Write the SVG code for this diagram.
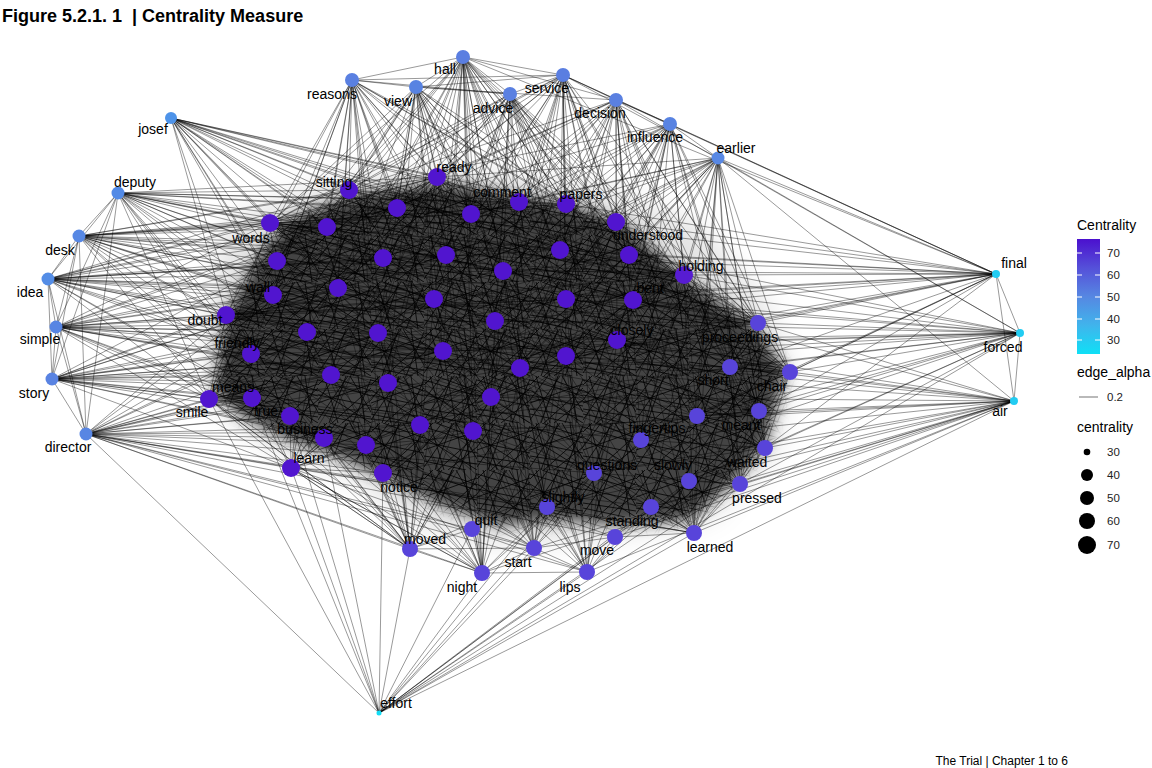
<svg xmlns="http://www.w3.org/2000/svg" width="1152" height="768" viewBox="0 0 1152 768">
<style>
.e{fill:none;stroke:#000;stroke-opacity:.62;stroke-width:.65}
.l{font-family:"Liberation Sans",Arial,sans-serif;font-size:14px;text-anchor:middle;fill:#000}
.ni{fill:#5115CF}
.nm{fill:#5844DA}
.no{fill:#5886E3}
.nc{fill:#22CCF2}
.t{font-family:"Liberation Sans",Arial,sans-serif;font-size:18px;font-weight:bold;fill:#000;white-space:pre}
.lt{font-family:"Liberation Sans",Arial,sans-serif;font-size:14px;fill:#000}
.lk{font-family:"Liberation Sans",Arial,sans-serif;font-size:11.5px;fill:#222}
.cap{font-family:"Liberation Sans",Arial,sans-serif;font-size:12px;fill:#000;text-anchor:end}
</style>
<defs>
<filter id="b1" x="-30%" y="-30%" width="160%" height="160%"><feGaussianBlur stdDeviation="12"/></filter>
<filter id="b2" x="-30%" y="-30%" width="160%" height="160%"><feGaussianBlur stdDeviation="7"/></filter>
<pattern id="mesh" width="53" height="47" patternUnits="userSpaceOnUse">
<path d="M0 4L53 20M0 27L53 8M6 0L20 47M28 0L11 47M0 33L53 41M32 0L53 36M0 14L53 47M18 0L0 24M53 12L14 47M0 9L9 0M24 47L53 24M40 0L47 47M0 44L30 0M0 19L53 30M12 0L53 15M0 38L42 47M35 47L53 3" stroke="#000" stroke-width=".8" fill="none"/>
</pattern>
<mask id="coreMask"><polygon points="285,222 350,196 440,183 520,196 570,205 625,225 690,282 755,325 785,372 765,445 735,480 690,520 620,525 560,520 500,525 440,505 390,480 335,455 290,440 240,415 215,390 225,320 255,262" fill="#fff" filter="url(#b2)"/></mask>
<linearGradient id="lg" x1="0" y1="0" x2="0" y2="1">
<stop offset="0" stop-color="#4B10CE"/>
<stop offset="0.25" stop-color="#5550D9"/>
<stop offset="0.5" stop-color="#5687E2"/>
<stop offset="0.75" stop-color="#40B4EC"/>
<stop offset="1" stop-color="#0FE0F6"/>
</linearGradient>
</defs>
<rect width="1152" height="768" fill="#fff"/>
<text class="t" x="2" y="22" xml:space="preserve">Figure 5.2.1. 1  | Centrality Measure</text>

<g id="edges">
<polygon points="225,220 330,180 460,168 600,185 700,225 765,300 792,370 775,455 710,520 600,540 480,545 415,525 345,475 270,448 212,405 205,330" fill="#000" fill-opacity=".1" filter="url(#b1)"/>
<polygon points="285,222 350,196 440,183 520,196 570,205 625,225 690,282 755,325 785,372 765,445 735,480 690,520 620,525 560,520 500,525 440,505 390,480 335,455 290,440 240,415 215,390 225,320 255,262" fill="#000" fill-opacity=".7" filter="url(#b2)"/>
<rect width="1152" height="768" fill="url(#mesh)" mask="url(#coreMask)"/>
<path class="e" d="M463 57L349 190M463 57L437 177M463 57L397 208M463 57L471 214M463 57L519 202M463 57L566 204M463 57L616 222M463 57L270 223M463 57L327 227M463 57L383 258M463 57L446 255M463 57L503 271M463 57L560 250M463 57L629 255M463 57L684 275M463 57L338 288M463 57L434 299M463 57L495 321M463 57L566 299M463 57L633 300M463 57L378 333M463 57L443 351M463 57L566 356M463 57L617 340M463 57L491 397M463 57L473 431M463 57L758 323M463 57L730 367M463 57L594 473M463 57L547 507M463 57L482 573M463 57L307 332M463 57L277 261M463 57L352 80M463 57L416 87M463 57L510 94M463 57L563 75M463 57L616 100M463 57L996 274"/>
<path class="e" d="M352 80L349 190M352 80L437 177M352 80L397 208M352 80L471 214M352 80L519 202M352 80L566 204M352 80L270 223M352 80L327 227M352 80L277 261M352 80L383 258M352 80L446 255M352 80L503 271M352 80L560 250M352 80L273 295M352 80L338 288M352 80L434 299M352 80L226 315M352 80L307 332M352 80L378 333M352 80L251 354M352 80L331 375M352 80L616 222M352 80L684 275M352 80L410 549M352 80L383 473M352 80L495 321M352 80L443 351M352 80L416 87M352 80L510 94M352 80L563 75"/>
<path class="e" d="M416 87L349 190M416 87L437 177M416 87L397 208M416 87L471 214M416 87L519 202M416 87L566 204M416 87L616 222M416 87L270 223M416 87L327 227M416 87L277 261M416 87L383 258M416 87L446 255M416 87L503 271M416 87L560 250M416 87L629 255M416 87L338 288M416 87L434 299M416 87L495 321M416 87L378 333M416 87L443 351M416 87L388 383M416 87L491 397M416 87L594 473M416 87L273 295M416 87L566 299M416 87L566 356M416 87L510 94M416 87L616 100M416 87L563 75"/>
<path class="e" d="M510 94L349 190M510 94L437 177M510 94L397 208M510 94L471 214M510 94L519 202M510 94L566 204M510 94L616 222M510 94L327 227M510 94L383 258M510 94L446 255M510 94L503 271M510 94L560 250M510 94L629 255M510 94L684 275M510 94L434 299M510 94L495 321M510 94L566 299M510 94L633 300M510 94L443 351M510 94L520 368M510 94L566 356M510 94L617 340M510 94L491 397M510 94L758 323M510 94L730 367M510 94L697 416M510 94L270 223M510 94L338 288M510 94L641 440M510 94L563 75"/>
<path class="e" d="M563 75L349 190M563 75L437 177M563 75L397 208M563 75L471 214M563 75L519 202M563 75L566 204M563 75L616 222M563 75L327 227M563 75L383 258M563 75L446 255M563 75L503 271M563 75L560 250M563 75L629 255M563 75L684 275M563 75L434 299M563 75L495 321M563 75L566 299M563 75L633 300M563 75L520 368M563 75L566 356M563 75L617 340M563 75L758 323M563 75L730 367M563 75L697 416M563 75L641 440M563 75L270 223M563 75L491 397M563 75L594 473M563 75L616 100M563 75L670 124M563 75L718 158M563 75L996 274"/>
<path class="e" d="M616 100L349 190M616 100L437 177M616 100L471 214M616 100L519 202M616 100L566 204M616 100L616 222M616 100L446 255M616 100L503 271M616 100L560 250M616 100L629 255M616 100L684 275M616 100L495 321M616 100L566 299M616 100L633 300M616 100L520 368M616 100L566 356M616 100L617 340M616 100L758 323M616 100L730 367M616 100L790 372M616 100L697 416M616 100L759 411M616 100L641 440M616 100L397 208M616 100L327 227M616 100L434 299M616 100L689 481M616 100L670 124M616 100L996 274M616 100L1020 333"/>
<path class="e" d="M670 124L349 190M670 124L471 214M670 124L519 202M670 124L566 204M670 124L616 222M670 124L327 227M670 124L446 255M670 124L503 271M670 124L560 250M670 124L629 255M670 124L684 275M670 124L495 321M670 124L566 299M670 124L633 300M670 124L566 356M670 124L617 340M670 124L758 323M670 124L730 367M670 124L790 372M670 124L697 416M670 124L759 411M670 124L641 440M670 124L765 448M670 124L520 368M670 124L491 397M670 124L594 473M670 124L718 158M670 124L996 274"/>
<path class="e" d="M718 158L519 202M718 158L566 204M718 158L616 222M718 158L446 255M718 158L503 271M718 158L560 250M718 158L629 255M718 158L684 275M718 158L495 321M718 158L566 299M718 158L633 300M718 158L520 368M718 158L566 356M718 158L617 340M718 158L491 397M718 158L758 323M718 158L730 367M718 158L790 372M718 158L697 416M718 158L759 411M718 158L641 440M718 158L765 448M718 158L740 484M718 158L689 481M718 158L471 214M718 158L434 299M718 158L651 507M718 158L694 533M718 158L437 177M718 158L996 274M718 158L1020 333M718 158L1014 401"/>
<path class="e" d="M171 118L349 190M171 118L437 177M171 118L397 208M171 118L471 214M171 118L519 202M171 118L566 204M171 118L616 222M171 118L270 223M171 118L327 227M171 118L277 261M171 118L383 258M171 118L446 255M171 118L503 271M171 118L560 250M171 118L684 275M171 118L273 295M171 118L338 288M171 118L434 299M171 118L226 315M171 118L307 332M171 118L378 333M171 118L251 354M171 118L331 375M171 118L495 321M171 118L443 351M171 118L758 323"/>
<path class="e" d="M118 193L349 190M118 193L437 177M118 193L397 208M118 193L471 214M118 193L519 202M118 193L270 223M118 193L327 227M118 193L277 261M118 193L383 258M118 193L446 255M118 193L503 271M118 193L273 295M118 193L338 288M118 193L434 299M118 193L226 315M118 193L307 332M118 193L378 333M118 193L251 354M118 193L331 375M118 193L209 399M118 193L252 398M118 193L290 416M118 193L566 204M118 193L560 250M118 193L495 321M118 193L79 236M118 193L48 279M118 193L56 327M118 193L52 379M118 193L86 434"/>
<path class="e" d="M79 236L349 190M79 236L437 177M79 236L397 208M79 236L471 214M79 236L519 202M79 236L270 223M79 236L327 227M79 236L277 261M79 236L383 258M79 236L446 255M79 236L503 271M79 236L273 295M79 236L338 288M79 236L434 299M79 236L495 321M79 236L226 315M79 236L307 332M79 236L378 333M79 236L251 354M79 236L331 375M79 236L209 399M79 236L252 398M79 236L290 416M79 236L560 250M79 236L566 204M79 236L443 351M79 236L48 279M79 236L56 327M79 236L52 379M79 236L86 434"/>
<path class="e" d="M48 279L349 190M48 279L397 208M48 279L566 204M48 279L270 223M48 279L327 227M48 279L277 261M48 279L383 258M48 279L446 255M48 279L503 271M48 279L273 295M48 279L338 288M48 279L434 299M48 279L495 321M48 279L226 315M48 279L307 332M48 279L378 333M48 279L443 351M48 279L251 354M48 279L331 375M48 279L388 383M48 279L209 399M48 279L252 398M48 279L290 416M48 279L566 299M48 279L560 250M48 279L437 177M48 279L56 327M48 279L52 379M48 279L86 434"/>
<path class="e" d="M56 327L270 223M56 327L327 227M56 327L277 261M56 327L383 258M56 327L446 255M56 327L273 295M56 327L338 288M56 327L434 299M56 327L495 321M56 327L226 315M56 327L307 332M56 327L378 333M56 327L443 351M56 327L520 368M56 327L251 354M56 327L331 375M56 327L388 383M56 327L209 399M56 327L252 398M56 327L290 416M56 327L491 397M56 327L324 438M56 327L291 468M56 327L566 299M56 327L566 356M56 327L397 208M56 327L52 379M56 327L86 434"/>
<path class="e" d="M52 379L277 261M52 379L446 255M52 379L273 295M52 379L338 288M52 379L434 299M52 379L495 321M52 379L226 315M52 379L307 332M52 379L378 333M52 379L443 351M52 379L520 368M52 379L566 356M52 379L251 354M52 379L331 375M52 379L388 383M52 379L209 399M52 379L252 398M52 379L290 416M52 379L420 425M52 379L324 438M52 379L366 445M52 379L291 468M52 379L491 397M52 379L617 340M52 379L641 440M52 379L86 434"/>
<path class="e" d="M86 434L273 295M86 434L338 288M86 434L495 321M86 434L226 315M86 434L307 332M86 434L378 333M86 434L443 351M86 434L520 368M86 434L251 354M86 434L331 375M86 434L388 383M86 434L209 399M86 434L252 398M86 434L290 416M86 434L491 397M86 434L420 425M86 434L473 431M86 434L324 438M86 434L366 445M86 434L291 468M86 434L383 473M86 434L594 473M86 434L547 507M86 434L472 529M86 434L410 549M86 434L482 573M86 434L534 548M86 434L587 572M86 434L694 533M86 434L615 537M86 434L379 713"/>
<path class="e" d="M379 713L209 399M379 713L252 398M379 713L291 468M379 713L324 438M379 713L290 416M379 713L410 549M379 713L482 573M379 713L472 529M379 713L534 548M379 713L587 572M379 713L615 537M379 713L547 507M379 713L694 533M379 713L651 507M379 713L740 484M379 713L594 473M379 713L689 481M379 713L765 448M379 713L1014 401M379 713L1020 333M379 713L383 473"/>
<path class="e" d="M996 274L1020 333M996 274L1014 401M996 274L758 323M996 274L730 367M996 274L790 372M996 274L697 416M996 274L759 411M996 274L684 275M996 274L629 255M996 274L633 300M996 274L616 222M996 274L617 340M996 274L566 299M996 274L560 250M996 274L566 204M996 274L503 271M996 274L495 321M996 274L566 356M996 274L520 368M996 274L641 440M996 274L226 315M996 274L446 255M996 274L471 214M996 274L765 448"/>
<path class="e" d="M1020 333L1014 401M1020 333L758 323M1020 333L730 367M1020 333L790 372M1020 333L697 416M1020 333L759 411M1020 333L641 440M1020 333L765 448M1020 333L740 484M1020 333L689 481M1020 333L684 275M1020 333L633 300M1020 333L617 340M1020 333L566 299M1020 333L566 356M1020 333L520 368M1020 333L491 397M1020 333L495 321M1020 333L443 351M1020 333L251 354M1020 333L629 255M1020 333L503 271M1020 333L594 473"/>
<path class="e" d="M1014 401L758 323M1014 401L730 367M1014 401L790 372M1014 401L697 416M1014 401L759 411M1014 401L641 440M1014 401L765 448M1014 401L740 484M1014 401L689 481M1014 401L594 473M1014 401L547 507M1014 401L651 507M1014 401L694 533M1014 401L615 537M1014 401L587 572M1014 401L534 548M1014 401L566 356M1014 401L617 340M1014 401L491 397M1014 401L473 431M1014 401L520 368M1014 401L633 300M1014 401L482 573"/>
<path class="e" d="M410 549L307 332M410 549L378 333M410 549L443 351M410 549L331 375M410 549L388 383M410 549L420 425M410 549L473 431M410 549L324 438M410 549L366 445M410 549L383 473M410 549L434 299M410 549L495 321M410 549L491 397M410 549L520 368M410 549L383 258M410 549L338 288M410 549L251 354M410 549L290 416M410 549L291 468M410 549L252 398M410 549L209 399M410 549L472 529M410 549L482 573M410 549L534 548M410 549L594 473"/>
<path class="e" d="M482 573L378 333M482 573L443 351M482 573L520 368M482 573L388 383M482 573L491 397M482 573L420 425M482 573L473 431M482 573L366 445M482 573L383 473M482 573L434 299M482 573L495 321M482 573L566 356M482 573L446 255M482 573L503 271M482 573L331 375M482 573L290 416M482 573L291 468M482 573L472 529M482 573L534 548M482 573L547 507M482 573L594 473M482 573L587 572"/>
<path class="e" d="M534 548L495 321M534 548L443 351M534 548L520 368M534 548L566 356M534 548L491 397M534 548L420 425M534 548L473 431M534 548L617 340M534 548L566 299M534 548L503 271M534 548L434 299M534 548L594 473M534 548L547 507M534 548L615 537M534 548L587 572M534 548L472 529M534 548L641 440M534 548L366 445M534 548L383 473"/>
<path class="e" d="M587 572L520 368M587 572L566 356M587 572L617 340M587 572L491 397M587 572L473 431M587 572L566 299M587 572L633 300M587 572L495 321M587 572L641 440M587 572L594 473M587 572L547 507M587 572L651 507M587 572L615 537M587 572L689 481M587 572L443 351M587 572L503 271M587 572L420 425"/>
<path class="e" d="M694 533L566 356M694 533L617 340M694 533L633 300M694 533L520 368M694 533L491 397M694 533L730 367M694 533L697 416M694 533L759 411M694 533L641 440M694 533L765 448M694 533L740 484M694 533L689 481M694 533L594 473M694 533L547 507M694 533L651 507M694 533L615 537M694 533L566 299M694 533L684 275M694 533L473 431M694 533L758 323M694 533L790 372"/>
<path class="e" d="M740 484L758 323M740 484L730 367M740 484L790 372M740 484L697 416M740 484L759 411M740 484L765 448M740 484L689 481M740 484L651 507M740 484L633 300M740 484L617 340M740 484L684 275M740 484L566 356M740 484L520 368M740 484L641 440M740 484L594 473"/>
<path class="e" d="M765 448L758 323M765 448L730 367M765 448L790 372M765 448L697 416M765 448L759 411M765 448L641 440M765 448L633 300M765 448L617 340M765 448L684 275M765 448L566 356M765 448L566 299M765 448L594 473M765 448L689 481"/>
<path class="e" d="M790 372L758 323M790 372L730 367M790 372L697 416M790 372L759 411M790 372L641 440M790 372L684 275M790 372L633 300M790 372L617 340M790 372L629 255M790 372L566 299M790 372L566 356M790 372L520 368M790 372L495 321M790 372L616 222"/>
<path class="e" d="M758 323L684 275M758 323L633 300M758 323L629 255M758 323L616 222M758 323L566 299M758 323L617 340M758 323L560 250M758 323L503 271M758 323L495 321M758 323L566 356M758 323L730 367M758 323L759 411M758 323L697 416M758 323L566 204M758 323L446 255"/>
<path class="e" d="M759 411L730 367M759 411L697 416M759 411L641 440M759 411L617 340M759 411L566 356M759 411L633 300M759 411L684 275M759 411L566 299M759 411L520 368M759 411L491 397"/>
<path class="e" d="M209 399L251 354M209 399L252 398M209 399L290 416M209 399L226 315M209 399L273 295M209 399L307 332M209 399L331 375M209 399L324 438M209 399L291 468M209 399L388 383M209 399L378 333M209 399L338 288M209 399L277 261M209 399L434 299M209 399L443 351M209 399L420 425M209 399L410 549M209 399L482 573"/>
<path class="e" d="M291 468L324 438M291 468L366 445M291 468L290 416M291 468L252 398M291 468L331 375M291 468L388 383M291 468L383 473M291 468L420 425M291 468L307 332M291 468L378 333M291 468L443 351M291 468L491 397M291 468L473 431M291 468L410 549M291 468L482 573M291 468L587 572M291 468L694 533"/>
<path class="e" d="M270 223L437 177M270 223L471 214M270 223L566 204M270 223L616 222M270 223L503 271M270 223L560 250M270 223L629 255M270 223L684 275M270 223L566 299M270 223L633 300M270 223L495 321M270 223L443 351M270 223L520 368M270 223L566 356M270 223L617 340M270 223L491 397M270 223L473 431M270 223L383 473M270 223L290 416M270 223L209 399"/>
<path class="e" d="M226 315L349 190M226 315L437 177M226 315L519 202M226 315L566 204M226 315L616 222M226 315L629 255M226 315L684 275M226 315L503 271M226 315L566 299M226 315L633 300M226 315L617 340M226 315L566 356M226 315L520 368M226 315L491 397M226 315L473 431M226 315L383 473M226 315L410 549M226 315L291 468"/>
<path class="e" d="M684 275L349 190M684 275L397 208M684 275L327 227M684 275L383 258M684 275L338 288M684 275L434 299M684 275L443 351M684 275L378 333M684 275L388 383M684 275L420 425M684 275L473 431M684 275L491 397M684 275L366 445M684 275L383 473M684 275L594 473M684 275L547 507M684 275L641 440"/>
<path class="e" d="M437 177L277 261M437 177L273 295M437 177L307 332M437 177L331 375M437 177L388 383M437 177L420 425M437 177L473 431M437 177L491 397M437 177L520 368M437 177L566 356M437 177L617 340M437 177L633 300M437 177L629 255M437 177L251 354M437 177L324 438M437 177L366 445"/>
<path class="e" d="M349 190L566 204M349 190L616 222M349 190L629 255M349 190L633 300M349 190L566 356M349 190L491 397M349 190L420 425M349 190L366 445M349 190L291 468M349 190L209 399M277 261L684 275M277 261L633 300M277 261L617 340M277 261L566 356M277 261L594 473M273 295L616 222M273 295L758 323M273 295L641 440M273 295L547 507M251 354L629 255M251 354L730 367M251 354L594 473M251 354L534 548M307 332L697 416M307 332L651 507M324 438L617 340M324 438L730 367M324 438L615 537M366 445L629 255M366 445L759 411M383 473L616 222M383 473L633 300M383 473L697 416M383 473L651 507M420 425L616 222M420 425L790 372M473 431L277 261M473 431L327 227M491 397L270 223M491 397L349 190M566 356L397 208M566 356L273 295M520 368L327 227M617 340L383 258M617 340L307 332M641 440L383 258M641 440L338 288M594 473L397 208M594 473L434 299M547 507L446 255M547 507L503 271M651 507L560 250M651 507L471 214"/>
</g>

<g id="nodes">
<g id="n-hall"><circle class="no" cx="463" cy="57" r="7" style="fill:#5A7EE1"/><text class="l" x="445" y="74">hall</text></g>
<g id="n-reasons"><circle class="no" cx="352" cy="80" r="7" style="fill:#5A80E1"/><text class="l" x="332" y="99">reasons</text></g>
<g id="n-view"><circle class="no" cx="416" cy="87" r="7" style="fill:#5883E2"/><text class="l" x="398" y="106">view</text></g>
<g id="n-advice"><circle class="no" cx="510" cy="94" r="7" style="fill:#5A80E1"/><text class="l" x="493" y="113">advice</text></g>
<g id="n-service"><circle class="no" cx="563" cy="75" r="7" style="fill:#5A7EE1"/><text class="l" x="547" y="93">service</text></g>
<g id="n-decision"><circle class="no" cx="616" cy="100" r="7" style="fill:#5A80E1"/><text class="l" x="600" y="118">decision</text></g>
<g id="n-influence"><circle class="no" cx="670" cy="124" r="7" style="fill:#5883E2"/><text class="l" x="655" y="142">influence</text></g>
<g id="n-earlier"><circle class="no" cx="718" cy="158" r="6.5" style="fill:#5888E4"/><text class="l" x="736" y="153">earlier</text></g>
<g id="n-josef"><circle class="no" cx="171" cy="118" r="6" style="fill:#4E93E9"/><text class="l" x="153" y="134">josef</text></g>
<g id="n-deputy"><circle class="no" cx="118" cy="193" r="6.5" style="fill:#528AE6"/><text class="l" x="135" y="187">deputy</text></g>
<g id="n-desk"><circle class="no" cx="79" cy="236" r="6.5" style="fill:#5788E4"/><text class="l" x="60" y="255">desk</text></g>
<g id="n-idea"><circle class="no" cx="48" cy="279" r="6.5" style="fill:#548DE6"/><text class="l" x="30" y="297">idea</text></g>
<g id="n-simple"><circle class="no" cx="56" cy="327" r="6.5" style="fill:#5785E3"/><text class="l" x="40" y="344">simple</text></g>
<g id="n-story"><circle class="no" cx="52" cy="379" r="6.5" style="fill:#5983E2"/><text class="l" x="34" y="398">story</text></g>
<g id="n-director"><circle class="no" cx="86" cy="434" r="6.5" style="fill:#5886E3"/><text class="l" x="68" y="452">director</text></g>
<g id="n-final"><circle class="nc" cx="996" cy="274" r="4"/><text class="l" x="1014" y="268">final</text></g>
<g id="n-forced"><circle class="nc" cx="1020" cy="333" r="4"/><text class="l" x="1003" y="352">forced</text></g>
<g id="n-air"><circle class="nc" cx="1014" cy="401" r="4"/><text class="l" x="1000" y="416">air</text></g>
<g id="n-effort"><circle class="nc" cx="379" cy="713" r="2.5" style="fill:#12DDF6"/><text class="l" x="396" y="708">effort</text></g>

<g id="n-sitting"><circle class="ni" cx="349" cy="190" r="9"/><text class="l" x="334" y="187">sitting</text></g>
<g id="n-ready"><circle class="ni" cx="437" cy="177" r="9"/><text class="l" x="454" y="172">ready</text></g>
<g id="n-a3"><circle class="ni" cx="397" cy="208" r="9"/></g>
<g id="n-a4"><circle class="ni" cx="471" cy="214" r="9"/></g>
<g id="n-comment"><circle class="ni" cx="519" cy="202" r="9"/><text class="l" x="502" y="197">comment</text></g>
<g id="n-papers"><circle class="ni" cx="566" cy="204" r="9"/><text class="l" x="581" y="199">papers</text></g>
<g id="n-a7"><circle class="ni" cx="616" cy="222" r="9"/></g>
<g id="n-words"><circle class="ni" cx="270" cy="223" r="9"/><text class="l" x="251" y="243">words</text></g>
<g id="n-a9"><circle class="ni" cx="327" cy="227" r="9"/></g>
<g id="n-a10"><circle class="ni" cx="277" cy="261" r="9"/></g>
<g id="n-a11"><circle class="ni" cx="383" cy="258" r="9"/></g>
<g id="n-a12"><circle class="ni" cx="446" cy="255" r="9"/></g>
<g id="n-a13"><circle class="ni" cx="503" cy="271" r="9"/></g>
<g id="n-a14"><circle class="ni" cx="560" cy="250" r="9"/></g>
<g id="n-understood"><circle class="ni" cx="629" cy="255" r="9"/><text class="l" x="648" y="240">understood</text></g>
<g id="n-holding"><circle class="ni" cx="684" cy="275" r="9" style="fill:#571CD2"/><text class="l" x="701" y="271">holding</text></g>
<g id="n-wall"><circle class="ni" cx="273" cy="295" r="9"/><text class="l" x="258" y="292">wall</text></g>
<g id="n-a18"><circle class="ni" cx="338" cy="288" r="9"/></g>
<g id="n-a19"><circle class="ni" cx="434" cy="299" r="9"/></g>
<g id="n-a20"><circle class="ni" cx="495" cy="321" r="9"/></g>
<g id="n-a21"><circle class="ni" cx="566" cy="299" r="9"/></g>
<g id="n-bent"><circle class="ni" cx="633" cy="300" r="9"/><text class="l" x="650" y="293">bent</text></g>
<g id="n-doubt"><circle class="ni" cx="226" cy="315" r="9"/><text class="l" x="205" y="325">doubt</text></g>
<g id="n-a24"><circle class="ni" cx="307" cy="332" r="9"/></g>
<g id="n-a25"><circle class="ni" cx="378" cy="333" r="9"/></g>
<g id="n-a26"><circle class="ni" cx="443" cy="351" r="9"/></g>
<g id="n-a27"><circle class="ni" cx="520" cy="368" r="9"/></g>
<g id="n-a28"><circle class="ni" cx="566" cy="356" r="9"/></g>
<g id="n-closely"><circle class="ni" cx="617" cy="340" r="9"/><text class="l" x="632" y="335">closely</text></g>
<g id="n-friendly"><circle class="ni" cx="251" cy="354" r="9"/><text class="l" x="237" y="348">friendly</text></g>
<g id="n-a31"><circle class="ni" cx="331" cy="375" r="9"/></g>
<g id="n-a32"><circle class="ni" cx="388" cy="383" r="9"/></g>
<g id="n-smile"><circle class="ni" cx="209" cy="399" r="9"/><text class="l" x="192" y="417">smile</text></g>
<g id="n-means"><circle class="ni" cx="252" cy="398" r="9"/><text class="l" x="233" y="392">means</text></g>
<g id="n-true"><circle class="ni" cx="290" cy="416" r="9"/><text class="l" x="266" y="416">true</text></g>
<g id="n-a36"><circle class="ni" cx="491" cy="397" r="9"/></g>
<g id="n-a37"><circle class="ni" cx="420" cy="425" r="9"/></g>
<g id="n-a38"><circle class="ni" cx="473" cy="431" r="9"/></g>
<g id="n-business"><circle class="ni" cx="324" cy="438" r="9"/><text class="l" x="305" y="434">business</text></g>
<g id="n-a40"><circle class="ni" cx="366" cy="445" r="9"/></g>
<g id="n-learn"><circle class="ni" cx="291" cy="468" r="9"/><text class="l" x="309" y="463">learn</text></g>
<g id="n-notice"><circle class="ni" cx="383" cy="473" r="9"/><text class="l" x="399" y="492">notice</text></g>

<g id="n-proceedings"><circle class="nm" cx="758" cy="323" r="8"/><text class="l" x="740" y="342">proceedings</text></g>
<g id="n-short"><circle class="nm" cx="730" cy="367" r="8"/><text class="l" x="713" y="385">short</text></g>
<g id="n-chair"><circle class="nm" cx="790" cy="372" r="8"/><text class="l" x="772" y="391">chair</text></g>
<g id="n-b4"><circle class="nm" cx="697" cy="416" r="8"/></g>
<g id="n-meant"><circle class="nm" cx="759" cy="411" r="8"/><text class="l" x="741" y="430">meant</text></g>
<g id="n-fingertips"><circle class="nm" cx="641" cy="440" r="8"/><text class="l" x="657" y="433">fingertips</text></g>
<g id="n-waited"><circle class="nm" cx="765" cy="448" r="8"/><text class="l" x="747" y="467">waited</text></g>
<g id="n-pressed"><circle class="nm" cx="740" cy="484" r="8"/><text class="l" x="757" y="503">pressed</text></g>
<g id="n-slowly"><circle class="nm" cx="689" cy="481" r="8"/><text class="l" x="673" y="470">slowly</text></g>
<g id="n-questions"><circle class="nm" cx="594" cy="473" r="8"/><text class="l" x="607" y="470">questions</text></g>
<g id="n-slightly"><circle class="nm" cx="547" cy="507" r="8"/><text class="l" x="563" y="502">slightly</text></g>
<g id="n-standing"><circle class="nm" cx="651" cy="507" r="8"/><text class="l" x="632" y="526">standing</text></g>
<g id="n-learned"><circle class="nm" cx="694" cy="533" r="8"/><text class="l" x="710" y="552">learned</text></g>
<g id="n-move"><circle class="nm" cx="615" cy="537" r="8"/><text class="l" x="597" y="555">move</text></g>
<g id="n-lips"><circle class="nm" cx="587" cy="572" r="8"/><text class="l" x="570" y="592">lips</text></g>
<g id="n-start"><circle class="nm" cx="534" cy="548" r="8"/><text class="l" x="518" y="567">start</text></g>
<g id="n-night"><circle class="nm" cx="482" cy="573" r="8"/><text class="l" x="462" y="592">night</text></g>
<g id="n-quit"><circle class="nm" cx="472" cy="529" r="8"/><text class="l" x="486" y="525">quit</text></g>
<g id="n-moved"><circle class="nm" cx="410" cy="549" r="8"/><text class="l" x="425" y="544">moved</text></g>
</g>

<g id="legend">
<text class="lt" x="1077" y="230">Centrality</text>
<rect x="1077" y="239" width="23" height="115" fill="url(#lg)"/>
<path d="M1077 253h5M1095 253h5M1077 275h5M1095 275h5M1077 297h5M1095 297h5M1077 319h5M1095 319h5M1077 340h5M1095 340h5" stroke="#fff" stroke-width="1"/>
<text class="lk" x="1107" y="257">70</text>
<text class="lk" x="1107" y="279">60</text>
<text class="lk" x="1107" y="301">50</text>
<text class="lk" x="1107" y="323">40</text>
<text class="lk" x="1107" y="344">30</text>
<text class="lt" x="1077" y="377">edge_alpha</text>
<line x1="1079" y1="397" x2="1098" y2="397" stroke="#000" stroke-opacity=".55" stroke-width="1"/>
<text class="lk" x="1107" y="401">0.2</text>
<text class="lt" x="1077" y="432">centrality</text>
<circle cx="1087" cy="452" r="3.3"/>
<circle cx="1087" cy="475" r="6"/>
<circle cx="1087" cy="498" r="7"/>
<circle cx="1087" cy="521" r="8"/>
<circle cx="1087" cy="545" r="9"/>
<text class="lk" x="1107" y="456">30</text>
<text class="lk" x="1107" y="479">40</text>
<text class="lk" x="1107" y="502">50</text>
<text class="lk" x="1107" y="525">60</text>
<text class="lk" x="1107" y="549">70</text>
</g>
<text class="cap" x="1068" y="765">The Trial | Chapter 1 to 6</text>
</svg>
